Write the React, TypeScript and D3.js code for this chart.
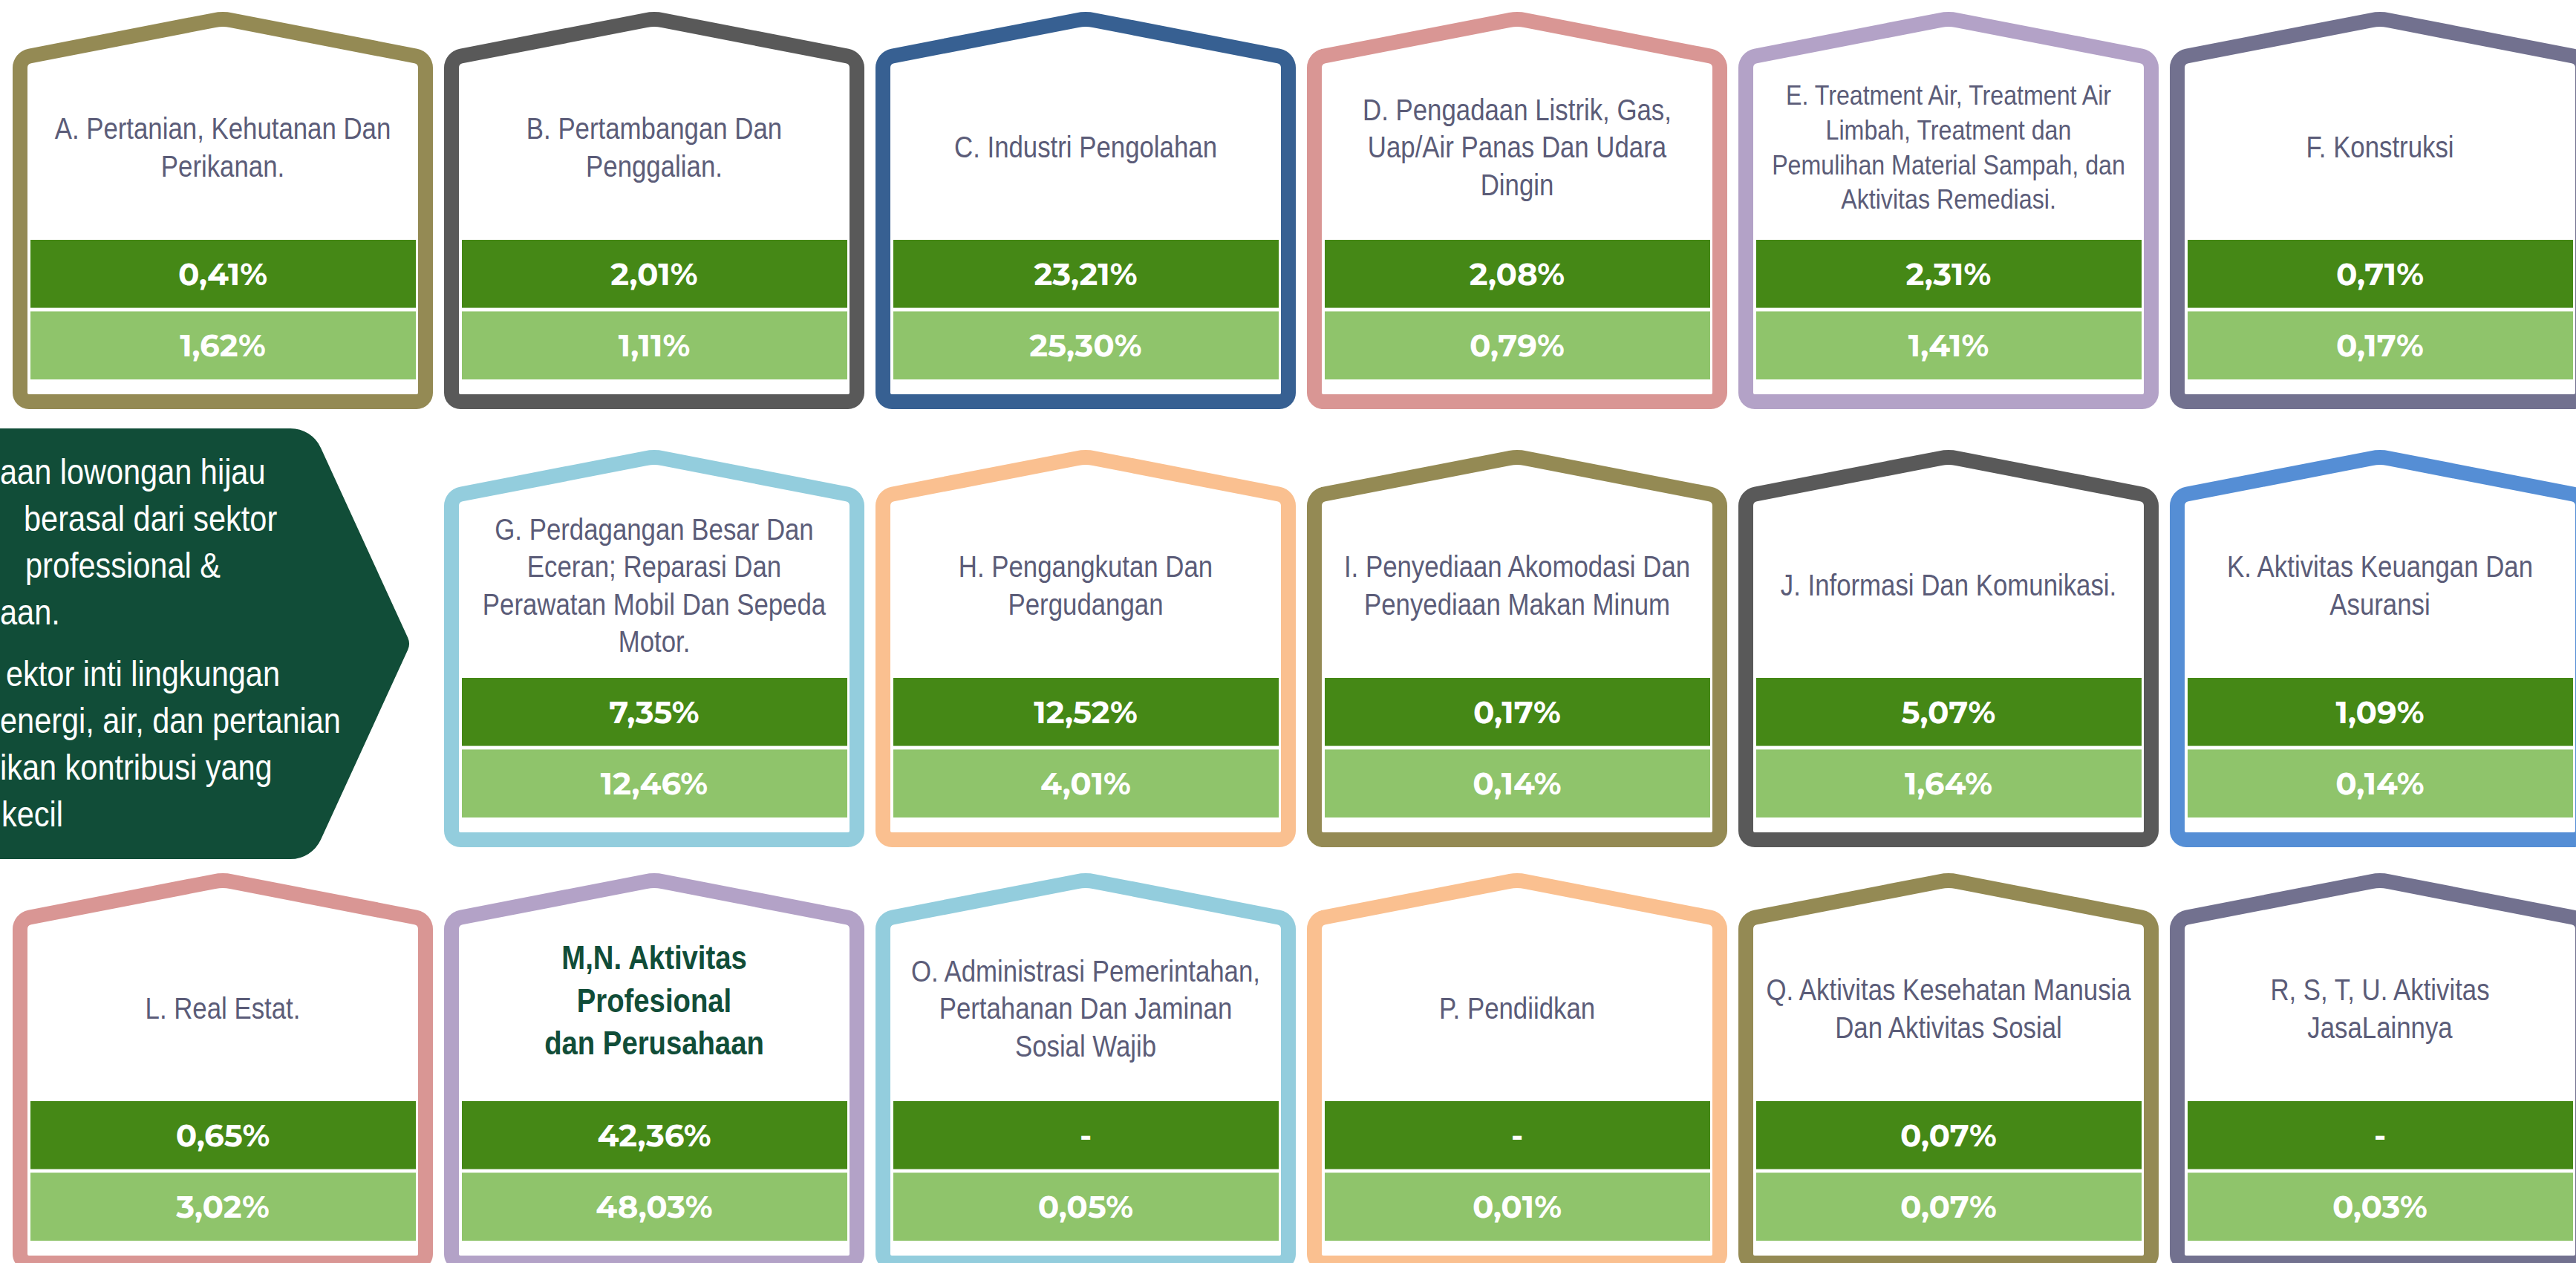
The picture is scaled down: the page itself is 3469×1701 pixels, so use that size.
import React, { useEffect, useRef } from 'react';
import * as d3 from 'd3';

const W = 3469;
const H = 1701;

// sector titles, line breaks as on the slide
const sectors = [
  'A. Pertanian, Kehutanan Dan\nPerikanan.',
  'B. Pertambangan Dan\nPenggalian.',
  'C. Industri Pengolahan',
  'D. Pengadaan Listrik, Gas,\nUap/Air Panas Dan Udara\nDingin',
  'E. Treatment Air, Treatment Air\nLimbah, Treatment dan\nPemulihan Material Sampah, dan\nAktivitas Remediasi.',
  'F. Konstruksi',
  'G. Perdagangan Besar Dan\nEceran; Reparasi Dan\nPerawatan Mobil Dan Sepeda\nMotor.',
  'H. Pengangkutan Dan\nPergudangan',
  'I. Penyediaan Akomodasi Dan\nPenyediaan Makan Minum',
  'J. Informasi Dan Komunikasi.',
  'K. Aktivitas Keuangan Dan\nAsuransi',
  'L. Real Estat.',
  'M,N. Aktivitas\nProfesional\ndan Perusahaan',
  'O. Administrasi Pemerintahan,\nPertahanan Dan Jaminan\nSosial Wajib',
  'P. Pendiidkan',
  'Q. Aktivitas Kesehatan Manusia\nDan Aktivitas Sosial',
  'R, S, T, U. Aktivitas\nJasaLainnya',
];

// share per sector (%), null = no value ("-")
const seriesDark = [0.41, 2.01, 23.21, 2.08, 2.31, 0.71, 7.35, 12.52, 0.17, 5.07, 1.09, 0.65, 42.36, null, null, 0.07, null];
const seriesLight = [1.62, 1.11, 25.30, 0.79, 1.41, 0.17, 12.46, 4.01, 0.14, 1.64, 0.14, 3.02, 48.03, 0.05, 0.01, 0.07, 0.03];

const frameColors = [
  '#948a54', '#595959', '#376092', '#d99694', '#b3a2c7', '#72718f',
  '#93cddd', '#fac090', '#948a54', '#595959', '#558ed5',
  '#d99694', '#b3a2c7', '#93cddd', '#fac090', '#948a54', '#72718f',
];

// grid slot of each card
const gridRows = [0, 0, 0, 0, 0, 0, 1, 1, 1, 1, 1, 2, 2, 2, 2, 2, 2];
const gridCols = [0, 1, 2, 3, 4, 5, 1, 2, 3, 4, 5, 0, 1, 2, 3, 4, 5];

const highlighted = 'M,N';

// callout text (the slide crops it on the left)
const calloutParagraphs = [
  ['aan lowongan hijau', 'berasal dari sektor', 'professional &', 'aan.'],
  ['ektor inti lingkungan', 'energi, air, dan pertanian', 'ikan kontribusi yang', 'kecil'],
];
const calloutIndent = [[0, 32, 34, 0], [8, 0, 0, 2]];

const DARK = '#458816';
const LIGHT = '#8fc46b';
const TITLE = '#5b5c78';
const DEEP = '#114d38';
const NARROW = 0.87;

const housePath = (cx: number, t: number) => {
  const h = 273, pk = t + 10, sh = t + 63, bt = t + 526;
  const p = d3.path();
  p.moveTo(cx, bt);
  p.arcTo(cx - h, bt, cx - h, sh, 12);
  p.arcTo(cx - h, sh, cx, pk, 16);
  p.arcTo(cx, pk, cx + h, sh, 60);
  p.arcTo(cx + h, sh, cx + h, bt, 16);
  p.arcTo(cx + h, bt, cx, bt, 12);
  p.closePath();
  return p.toString();
};

const App = () => {
  const ref = useRef<SVGSVGElement>(null);

  useEffect(() => {
    const svg = d3.select(ref.current);
    svg.selectAll('*').remove();

    const colX = d3.scaleLinear().domain([0, 1]).range([300, 881]);
    const rowY = d3.scaleOrdinal<number, number>().domain([0, 1, 2]).range([15, 605, 1175]);
    const barY = d3.scaleBand<string>().domain(['dark', 'light']).range([308, 496]).paddingInner(0.05);
    const fmt = (v: number | null) => (v == null ? '-' : d3.format('.2f')(v).replace('.', ',') + '%');

    // callout arrow
    const cp = d3.path();
    cp.moveTo(-60, 577);
    cp.arcTo(420, 577, 553, 867, 45);
    cp.arcTo(553, 867, 420, 1157, 20);
    cp.arcTo(420, 1157, -60, 1157, 45);
    cp.lineTo(-60, 1157);
    cp.closePath();
    svg.append('path').attr('d', cp.toString()).attr('fill', DEEP);

    const callout = svg.append('g')
      .attr('font-family', "'Liberation Sans', Arial, sans-serif")
      .attr('font-size', 47.7)
      .attr('fill', '#fff');
    calloutParagraphs.forEach((lines, pi) => {
      lines.forEach((line, li) => {
        const y = 652 + (pi * 4 + li) * 63 + pi * 20;
        callout.append('text')
          .attr('transform', `translate(${calloutIndent[pi][li]},${y}) scale(${NARROW},1)`)
          .text(line);
      });
    });

    const cards = sectors.map((name, i) => ({
      name,
      lines: name.split('\n'),
      dark: seriesDark[i],
      light: seriesLight[i],
      color: frameColors[i],
      cx: colX(gridCols[i]),
      top: rowY(gridRows[i]),
      hi: name.startsWith(highlighted),
    }));

    const card = svg.selectAll('g.card').data(cards).join('g').attr('class', 'card');

    card.append('path')
      .attr('d', d => housePath(d.cx, d.top))
      .attr('fill', '#fff')
      .attr('stroke', d => d.color)
      .attr('stroke-width', 20);

    // titles
    card.each(function (d) {
      const fs = d.hi ? 44 : d.name.startsWith('E.') ? 37 : 40;
      const lh = d.hi ? 57.5 : fs * 1.26;
      const center = d.top + (d.hi ? 172 : 183);
      const capH = fs * 0.716;
      const n = d.lines.length;
      d3.select(this).selectAll('text.title')
        .data(d.lines)
        .join('text')
        .attr('class', 'title')
        .attr('transform', (_, i) => `translate(${d.cx},${center + (i - (n - 1) / 2) * lh + capH / 2}) scale(${NARROW},1)`)
        .attr('text-anchor', 'middle')
        .attr('font-family', "'Liberation Sans', Arial, sans-serif")
        .attr('font-size', fs)
        .attr('font-weight', d.hi ? 700 : 400)
        .attr('fill', d.hi ? DEEP : TITLE)
        .text(t => t);
    });

    // value bars
    (['dark', 'light'] as const).forEach(s => {
      card.append('rect')
        .attr('x', d => d.cx - 259)
        .attr('y', d => d.top + (barY(s) as number))
        .attr('width', 519)
        .attr('height', barY.bandwidth())
        .attr('fill', s === 'dark' ? DARK : LIGHT);

      card.append('text')
        .attr('x', d => d.cx)
        .attr('y', d => d.top + (barY(s) as number) + barY.bandwidth() / 2 + 15)
        .attr('text-anchor', 'middle')
        .attr('font-family', "Montserrat, Inter, 'Open Sans', sans-serif")
        .attr('font-weight', 700)
        .attr('font-size', 42)
        .attr('fill', '#fff')
        .text(d => fmt(s === 'dark' ? d.dark : d.light));
    });
  }, []);

  return (
    <svg
      ref={ref}
      width={W}
      height={H}
      style={{ position: 'absolute', left: 0, top: 0, background: '#fff', display: 'block' }}
    />
  );
};

export default App;
